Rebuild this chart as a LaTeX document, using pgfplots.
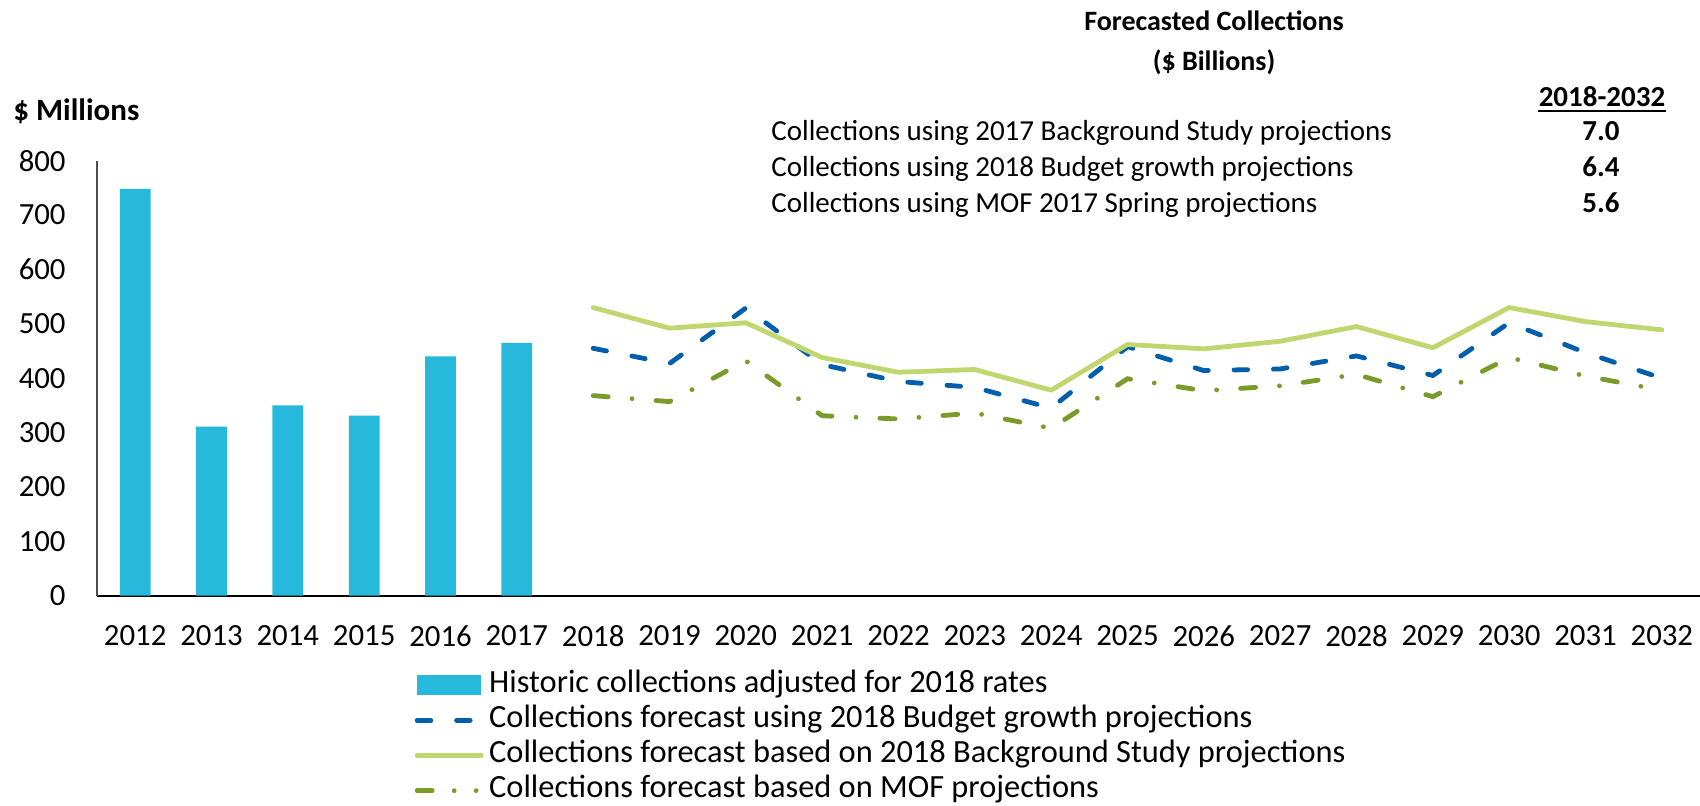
\documentclass[border=0pt]{standalone}
\usepackage{pgfplots}
\pgfplotsset{compat=1.18}
\usepackage{fontspec}
\setmainfont{Carlito}
\definecolor{BarBlue}{RGB}{39,185,219}
\definecolor{DashBlue}{RGB}{0,94,170}
\definecolor{LightGreen}{RGB}{192,214,110}
\definecolor{DarkGreen}{RGB}{122,154,42}
\tikzset{
  budget/.style={DashBlue,line width=2.4pt,line cap=round,dash pattern=on 6.8pt off 12.9pt},
  study/.style={LightGreen,line width=2.4pt,line cap=round,line join=round},
  mof/.style={DarkGreen,line width=2.4pt,line cap=round,dash pattern=on 7.5pt off 12pt on 0pt off 12pt},
}
\begin{document}
\begin{tikzpicture}
\path[use as bounding box] (0,0) rectangle (850pt,402.5pt);
\begin{axis}[
  at={(48.5pt,104.65pt)}, anchor=south west,
  scale only axis, width=801.5pt, height=217.5pt,
  xmin=-0.5, xmax=20.5, ymin=0, ymax=800,
  axis x line=bottom, axis y line=left,
  x axis line style={-,black,line width=1pt},
  y axis line style={-,black!70,line width=0.6pt},
  xtick={0,1,2,3,4,5,6,7,8,9,10,11,12,13,14,15,16,17,18,19,20},
  xticklabels={2012,2013,2014,2015,2016,2017,2018,2019,2020,2021,2022,2023,2024,2025,2026,2027,2028,2029,2030,2031,2032},
  ytick={0,100,200,300,400,500,600,700,800},
  major tick length=0pt, tick style={draw=none},
  ticklabel style={font=\fontsize{15.4pt}{18pt}\selectfont},
  xticklabel style={anchor=north,inner sep=0pt,yshift=-14.6pt},
  yticklabel style={anchor=east,inner sep=0pt,xshift=-15.5pt},
  /pgf/number format/assume math mode=true,
  legend image code/.code={\draw[#1] (0pt,0pt) -- (32pt,0pt);},
  legend cell align=left,
  legend style={at={(axis description cs:0.198,-0.17)}, anchor=north west,
    draw=none, fill=none, inner sep=0pt, row sep=2.6pt, column sep=2.8pt,
    font=\fontsize{16.2pt}{18pt}\selectfont,
    nodes={inner sep=0pt,text height=11pt,text depth=4pt}},
]
% historic collections, 2012-2017
\addplot[ybar, bar width=15.35pt, fill=BarBlue, draw=none,
  legend image code/.code={\fill[BarBlue] (0pt,-5pt) rectangle (32pt,5pt);}]
  coordinates {(0,748) (1,311) (2,350) (3,331) (4,440) (5,465)};
\addlegendentry{Historic collections adjusted for 2018 rates}
% forecasts, 2018-2032
\addplot[budget] coordinates {(6,455) (7,427) (8,529) (9,425) (10,394) (11,383) (12,345) (13,458) (14,414) (15,417) (16,441) (17,405) (18,502) (19,447) (20,400)};
\addlegendentry{Collections forecast using 2018 Budget growth projections}
\addplot[study] coordinates {(6,530) (7,492) (8,502) (9,438) (10,411) (11,416) (12,378) (13,462) (14,454) (15,468) (16,495) (17,456) (18,530) (19,504) (20,489)};
\addlegendentry{Collections forecast based on 2018 Background Study projections}
\addplot[mof, legend image code/.code={\draw[DarkGreen,line width=2.4pt,line cap=round,dash pattern=on 7.5pt off 11pt on 0pt off 11pt on 0pt off 20pt] (0pt,0pt) -- (30pt,0pt);}]
  coordinates {(6,368) (7,357) (8,432) (9,331) (10,325) (11,336) (12,308) (13,399) (14,377) (15,386) (16,407) (17,366) (18,438) (19,404) (20,378)};
\addlegendentry{Collections forecast based on MOF projections}
\end{axis}
% texts, in pixel units of the 1700x805 reference (y down)
\begin{scope}[x=0.5pt,y=-0.5pt,yshift=402.5pt]
  \node[anchor=base west,inner sep=0pt,font=\fontsize{15.5pt}{18pt}\selectfont\bfseries] at (13,120.6) {\$ Millions};
  \node[anchor=base,inner sep=0pt,font=\fontsize{14pt}{17pt}\selectfont\bfseries] at (1214,30.7) {Forecasted Collections};
  \node[anchor=base,inner sep=0pt,font=\fontsize{14pt}{17pt}\selectfont\bfseries] at (1214,70.8) {(\$ Billions)};
  \node[anchor=base,inner sep=0pt,font=\fontsize{14.5pt}{17pt}\selectfont\bfseries] at (1602,106.6) {2018-2032};
  \draw[line width=1pt] (1538,111) -- (1666,111);
  \begin{scope}[every node/.style={inner sep=0pt,font=\fontsize{14.5pt}{17pt}\selectfont}]
    \node[anchor=base west] at (771,140.5) {Collections using 2017 Background Study projections};
    \node[anchor=base west] at (771,176.5) {Collections using 2018 Budget growth projections};
    \node[anchor=base west] at (771,212.5) {Collections using MOF 2017 Spring projections};
    \node[anchor=base,font=\fontsize{14.5pt}{17pt}\selectfont\bfseries] at (1601,140.5) {7.0};
    \node[anchor=base,font=\fontsize{14.5pt}{17pt}\selectfont\bfseries] at (1601,176.5) {6.4};
    \node[anchor=base,font=\fontsize{14.5pt}{17pt}\selectfont\bfseries] at (1601,212.5) {5.6};
  \end{scope}
\end{scope}
\end{tikzpicture}
\end{document}
